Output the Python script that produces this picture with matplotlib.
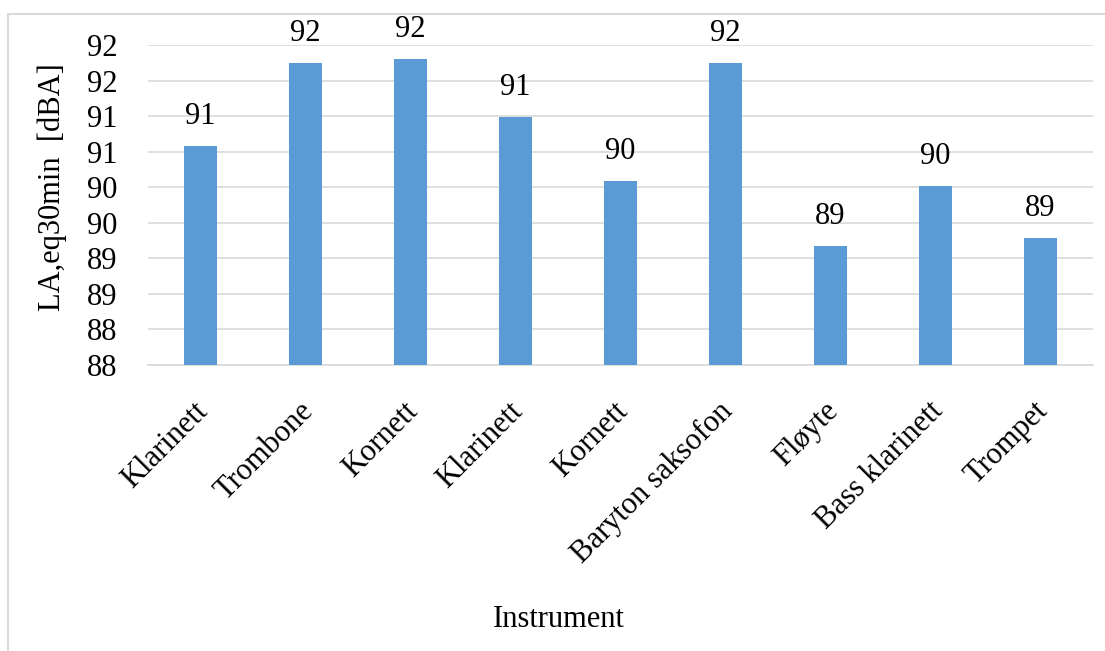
import numpy as np
import matplotlib.pyplot as plt
from matplotlib.ticker import FuncFormatter, MultipleLocator
from matplotlib.lines import Line2D
from matplotlib.transforms import ScaledTranslation

# Instrumenter og målt lydnivå
instruments = ["Klarinett", "Trombone", "Kornett", "Klarinett", "Kornett",
               "Baryton saksofon", "Fløyte", "Bass klarinett", "Trompet"]
levels = [90.58, 91.74, 91.80, 90.99, 90.09, 91.74, 89.17, 90.02, 89.28]

plt.rcParams['font.family'] = ['Liberation Serif', 'DejaVu Serif']
FS = 22

fig = plt.figure(figsize=(11.05, 6.51), dpi=100)
ax = fig.add_axes([0.134, 0.4393, 0.855, 0.4916])

x = np.arange(len(instruments))
bars = ax.bar(x, levels, width=0.31, color="#5B9BD5", zorder=3)

ax.set_xlim(-0.5, len(instruments) - 0.5)
ax.set_ylim(87.5, 92.0)
ax.yaxis.set_major_locator(MultipleLocator(0.5))
# Excel-style avrunding (halv opp) på aksetallene
ax.yaxis.set_major_formatter(FuncFormatter(lambda v, p: f"{int(np.floor(v + 0.5))}"))
ax.grid(axis="y", color="#D9D9D9", linewidth=1.2, zorder=0)

for s in ["top", "right", "left"]:
    ax.spines[s].set_visible(False)
ax.spines["bottom"].set_color("#D9D9D9")
ax.spines["bottom"].set_linewidth(1.2)
ax.tick_params(axis="both", length=0)
ax.tick_params(axis="y", labelsize=FS, pad=22)
ax.tick_params(axis="x", labelsize=FS, pad=14)

ax.set_xticks(x)
ax.set_xticklabels(instruments, rotation=45, ha="right", va="top",
                   rotation_mode="anchor")
shift = ScaledTranslation(-0.07, -0.12, fig.dpi_scale_trans)
for lab in ax.get_xticklabels():
    lab.set_transform(lab.get_transform() + shift)

for rect, v in zip(bars, levels):
    ax.annotate(f"{int(np.floor(v + 0.5))}",
                (rect.get_x() + rect.get_width() / 2, v),
                xytext=(0, 11), textcoords="offset points",
                ha="center", va="bottom", fontsize=FS)

fig.text(0.047, 0.713, "LA,eq30min  [dBA]", rotation=90, ha="center", va="center",
         fontsize=FS)
fig.text(0.506, 0.049, "Instrument", ha="center", va="center", fontsize=FS)

# Ramme rundt diagrammet
fig.add_artist(Line2D([0.0072, 0.0072], [0.9785, 0.0], transform=fig.transFigure,
                      color="#D9D9D9", linewidth=1.5))
fig.add_artist(Line2D([0.0072, 1.0], [0.9785, 0.9785], transform=fig.transFigure,
                      color="#D9D9D9", linewidth=1.5))

fig.savefig("out.png", dpi=100)
